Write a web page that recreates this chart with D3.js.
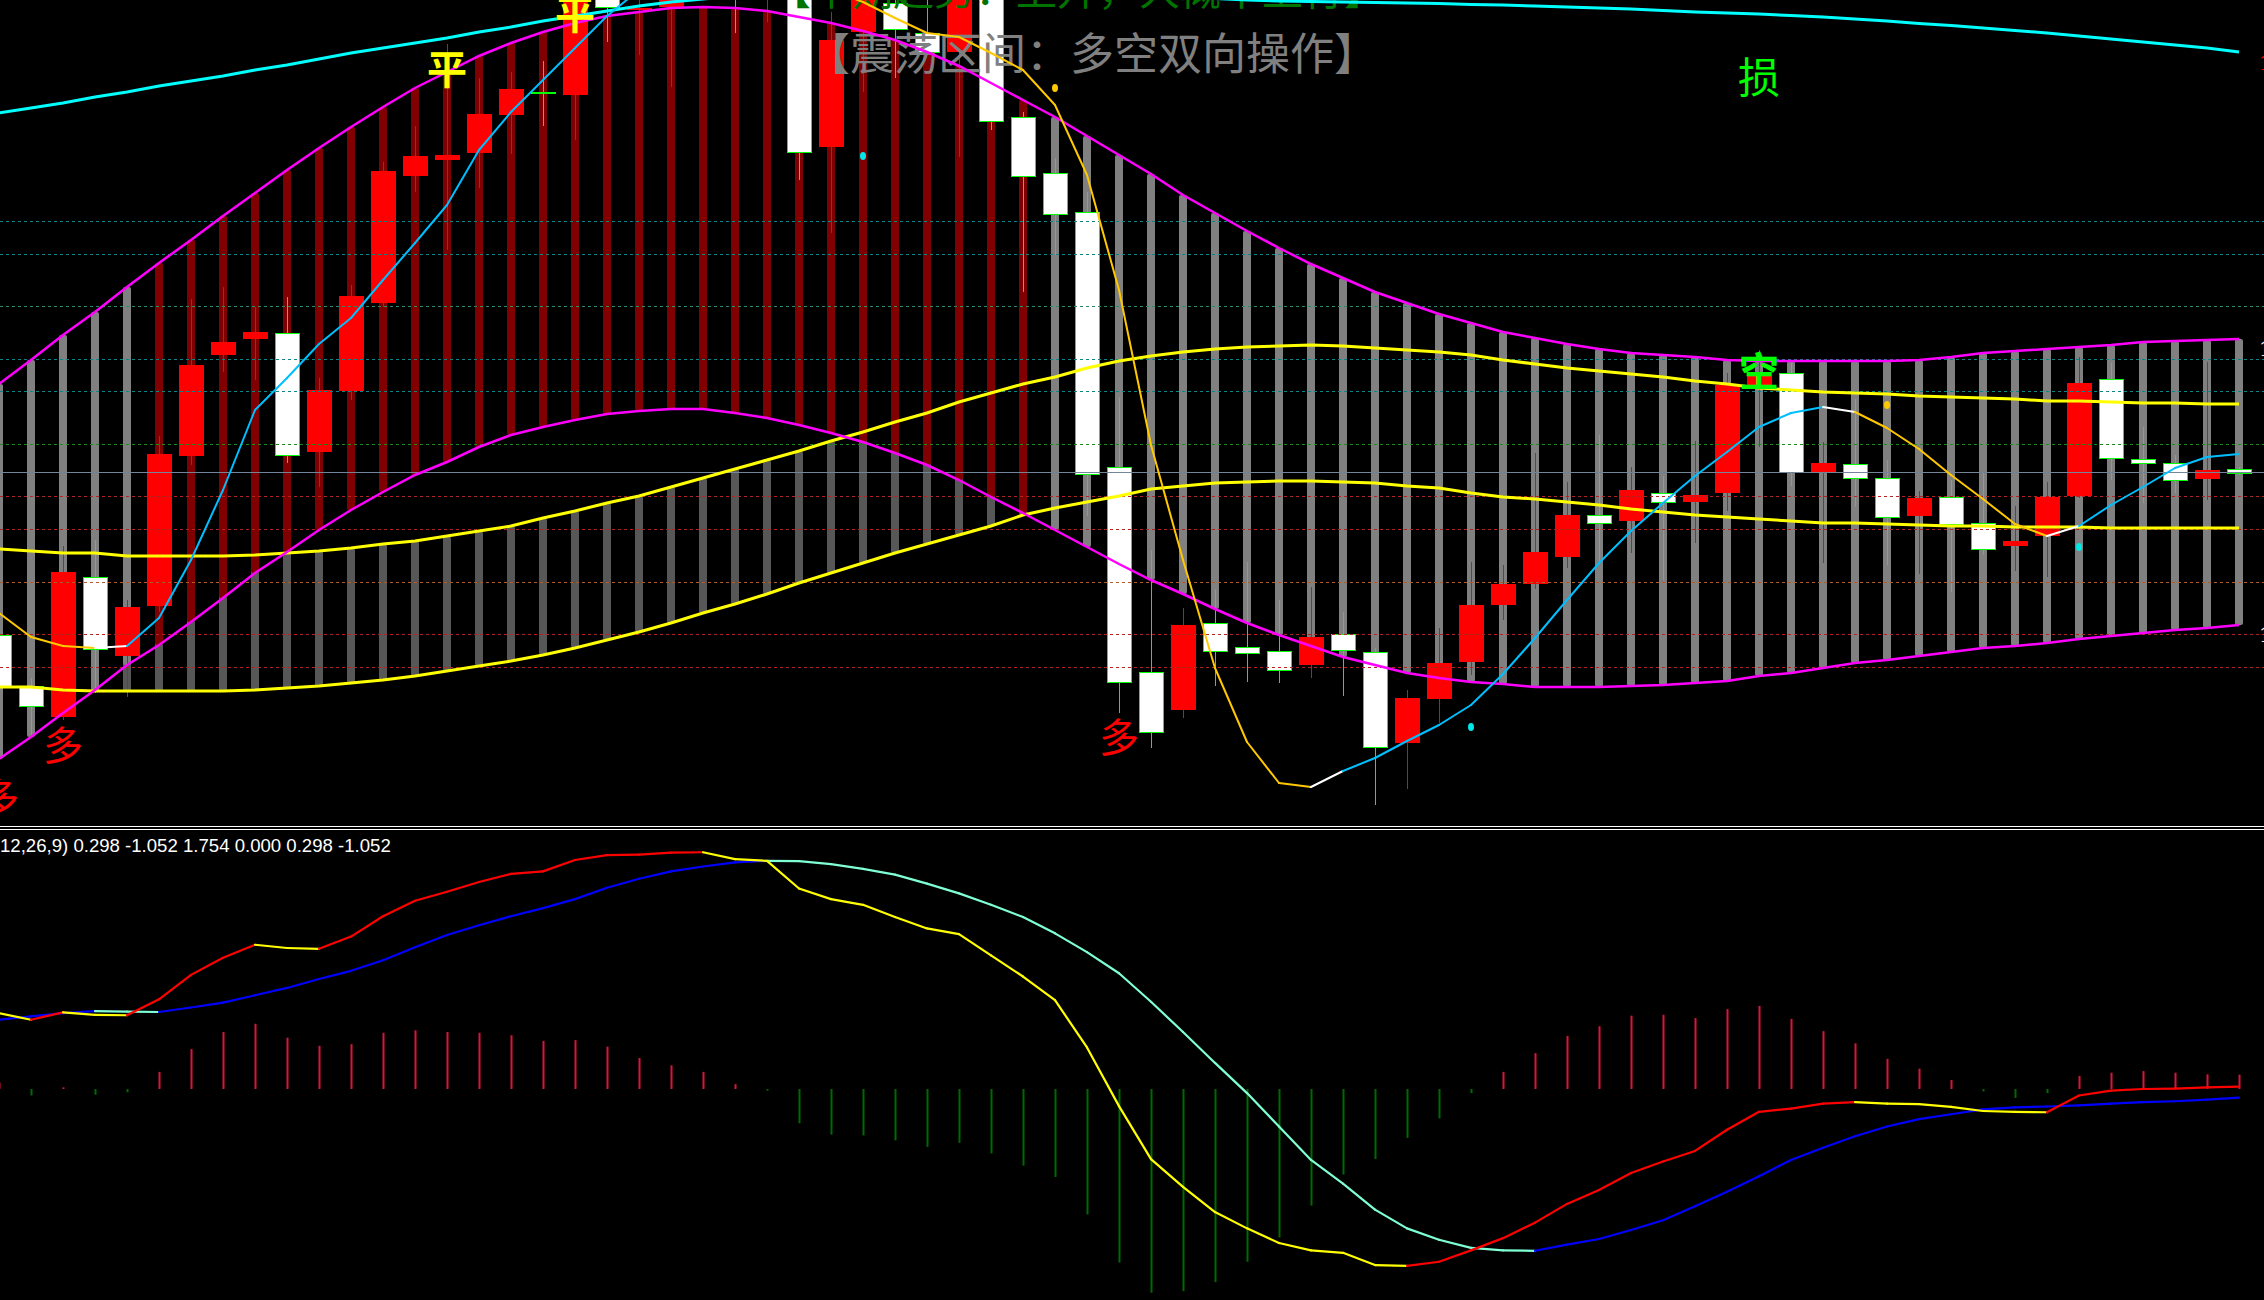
<!DOCTYPE html>
<html><head><meta charset="utf-8">
<script src="https://cdn.jsdelivr.net/npm/d3@7"></script>
<style>html,body{margin:0;padding:0;background:#000;overflow:hidden}</style>
</head><body>
<svg id="chart" width="2264" height="1300"></svg>
<script>
// ---------- DATA (bar index -1 .. 69) ----------
const barIndex = d3.range(-1, 70);
const openP = [1266.5,1261.4,1258.3,1272.3,1264.4,1269.4,1284.4,1294.5,1296.1,1296.7,1284.8,1290.9,1299.7,1312.4,1314.0,1314.7,1318.5,1320.75,1320.5,1331.8,1329.0,1329.3,1333.0,1335.0,1330.5,1332.5,1315.3,1326.8,1329.7,1326.7,1324.8,1330.8,1318.3,1312.7,1308.8,1283.3,1262.8,1259.0,1267.7,1265.3,1264.9,1263.5,1266.6,1264.8,1255.7,1260.1,1263.8,1269.5,1271.6,1274.3,1278.5,1277.9,1280.7,1279.8,1280.7,1291.3,1292.7,1282.8,1283.6,1282.2,1278.4,1280.3,1277.7,1275.4,1276.4,1280.4,1292.1,1284.1,1283.7,1282.1,1283.1];
const highP = [1268.0,1262.2,1275.4,1276.0,1270.0,1286.4,1300.1,1301.3,1299.3,1300.3,1292.2,1301.5,1313.8,1317.4,1325.6,1322.2,1322.8,1323.9,1331.2,1332.5,1330.8,1332.5,1335.5,1336.0,1334.0,1333.5,1328.8,1332.0,1330.5,1330.5,1331.5,1331.5,1318.8,1314.2,1310.8,1290.3,1275.0,1269.2,1271.1,1273.8,1270.0,1271.3,1268.8,1265.2,1261.0,1267.2,1273.8,1273.5,1284.7,1281.8,1286.5,1283.3,1282.4,1285.9,1292.7,1295.0,1293.7,1285.8,1290.1,1284.0,1280.9,1282.0,1282.8,1279.4,1281.8,1294.3,1293.7,1287.3,1284.5,1293.8,1283.3];
const lowP = [1260.0,1256.3,1258.0,1260.7,1260.3,1268.8,1283.5,1292.8,1292.0,1283.7,1281.3,1290.0,1299.3,1310.8,1305.0,1311.2,1314.6,1317.4,1316.0,1325.8,1324.5,1321.3,1330.8,1326.7,1327.8,1312.0,1306.7,1320.8,1322.2,1324.5,1314.3,1317.0,1300.8,1304.5,1278.4,1258.7,1255.2,1258.2,1261.4,1261.8,1261.7,1262.2,1260.4,1249.5,1251.1,1257.7,1262.5,1268.0,1271.1,1273.2,1273.7,1274.7,1272.0,1275.7,1278.9,1285.3,1281.4,1273.7,1279.3,1273.5,1272.6,1270.8,1274.5,1272.9,1272.3,1280.2,1282.0,1279.7,1280.7,1280.0,1282.5];
const closeP = [1261.3,1259.4,1272.8,1265.1,1269.3,1284.6,1293.5,1295.8,1296.8,1284.5,1291.0,1300.4,1312.9,1314.4,1314.5,1318.6,1321.1,1320.65,1330.3,1329.3,1329.2,1331.5,1334.5,1330.8,1333.0,1314.8,1326.0,1331.0,1327.1,1324.8,1330.5,1317.9,1312.4,1308.6,1282.6,1261.8,1256.8,1267.5,1264.9,1264.7,1263.0,1266.3,1265.0,1255.3,1260.2,1263.7,1269.5,1271.6,1274.8,1278.5,1277.7,1281.0,1279.8,1280.5,1291.5,1292.5,1282.8,1283.7,1282.2,1278.3,1280.2,1277.6,1275.1,1275.9,1280.3,1291.7,1284.2,1283.7,1282.0,1283.0,1282.7];

const bandUpper = [1291.6,1294.0,1296.5,1298.8,1301.3,1303.7,1306.0,1308.4,1310.7,1313.0,1315.2,1317.3,1319.3,1321.2,1322.8,1324.4,1325.7,1326.8,1327.7,1328.4,1328.8,1329.2,1329.3,1329.2,1328.9,1328.3,1327.7,1326.9,1326.0,1324.8,1323.4,1321.7,1320.0,1318.3,1316.4,1314.5,1312.6,1310.5,1308.7,1306.9,1305.2,1303.6,1302.2,1300.8,1299.7,1298.6,1297.7,1296.8,1296.2,1295.6,1295.1,1294.7,1294.5,1294.3,1294.0,1293.9,1293.9,1293.9,1293.9,1293.9,1294.0,1294.3,1294.7,1294.9,1295.1,1295.3,1295.5,1295.8,1295.9,1296.0,1296.1];
const bandLower = [1254.1,1256.3,1258.7,1261.0,1263.5,1265.5,1267.8,1270.2,1272.7,1274.8,1277.0,1279.0,1280.8,1282.5,1283.8,1285.3,1286.5,1287.3,1288.0,1288.6,1288.9,1289.1,1289.1,1288.7,1288.2,1287.5,1286.7,1285.8,1284.7,1283.5,1282.0,1280.3,1278.7,1277.0,1275.3,1273.6,1272.0,1270.6,1269.1,1267.7,1266.5,1265.4,1264.3,1263.5,1262.7,1262.2,1261.8,1261.6,1261.3,1261.3,1261.3,1261.4,1261.5,1261.7,1261.9,1262.4,1262.7,1263.2,1263.7,1264.0,1264.4,1264.8,1265.2,1265.4,1265.7,1266.1,1266.4,1266.7,1267.0,1267.2,1267.5];
const bandTrend = [0,0,0,0,0, 1,1,1,1,1,1,1,1,1,1,1,1,1,1,1,1,1,1,1,1,1,1,1,1,1,1,1,1, 0,0,0,0,0,0,0,0,0,0,0,0,0,0,0,0,0,0,0,0,0,0,0,0,0,0,0,0,0,0,0,0,0,0,0,0,0,0];
const maMidA = [1275.1,1274.9,1274.7,1274.7,1274.4,1274.4,1274.4,1274.4,1274.5,1274.7,1274.9,1275.2,1275.6,1275.9,1276.4,1276.9,1277.4,1278.2,1278.9,1279.7,1280.4,1281.3,1282.2,1283.1,1284.0,1284.9,1285.9,1286.8,1287.8,1288.7,1289.8,1290.7,1291.6,1292.3,1293.2,1293.9,1294.4,1294.8,1295.1,1295.3,1295.4,1295.5,1295.4,1295.2,1295.0,1294.8,1294.5,1294.0,1293.6,1293.2,1292.9,1292.6,1292.3,1291.9,1291.6,1291.2,1291.0,1290.8,1290.7,1290.6,1290.4,1290.3,1290.2,1290.1,1289.9,1289.9,1289.8,1289.7,1289.7,1289.6,1289.6];
const maMidB = [1261.3,1261.3,1261.0,1260.9,1260.9,1260.9,1260.9,1260.9,1261.0,1261.2,1261.4,1261.7,1262.0,1262.4,1262.9,1263.4,1263.9,1264.5,1265.2,1266.0,1266.8,1267.7,1268.7,1269.6,1270.6,1271.7,1272.7,1273.7,1274.7,1275.6,1276.5,1277.4,1278.5,1279.2,1279.8,1280.4,1281.1,1281.4,1281.7,1281.8,1281.9,1281.9,1281.8,1281.7,1281.4,1281.2,1280.7,1280.3,1280.1,1279.8,1279.5,1279.1,1278.8,1278.5,1278.3,1278.1,1277.9,1277.7,1277.7,1277.6,1277.5,1277.4,1277.4,1277.3,1277.3,1277.3,1277.2,1277.2,1277.2,1277.2,1277.2];
const maLong = [1318.7,1319.2,1319.7,1320.3,1320.8,1321.4,1321.9,1322.4,1323.0,1323.5,1324.1,1324.7,1325.2,1325.7,1326.2,1326.8,1327.3,1327.9,1328.4,1328.9,1329.4,1329.8,1330.1,1330.4,1330.6,1330.8,1330.9,1331.0,1331.0,1331.0,1331.0,1330.9,1330.8,1330.7,1330.6,1330.5,1330.4,1330.3,1330.15,1330.0,1329.9,1329.85,1329.8,1329.75,1329.7,1329.65,1329.55,1329.5,1329.4,1329.3,1329.2,1329.1,1328.95,1328.8,1328.7,1328.6,1328.45,1328.3,1328.1,1327.9,1327.65,1327.45,1327.2,1326.95,1326.7,1326.4,1326.1,1325.8,1325.5,1325.2,1324.8];
const fastLine = [1268.7,1266.3,1265.4,1265.2,1265.4,1268.2,1274.0,1281.0,1289.0,1292.2,1295.6,1298.2,1302.0,1305.7,1309.5,1315.0,1318.8,1322.0,1325.2,1328.4,1331.0,1332.5,1333.5,1333.8,1333.3,1332.2,1331.0,1329.8,1328.2,1326.7,1326.3,1324.7,1323.0,1319.5,1312.5,1301.0,1285.5,1274.0,1263.2,1255.8,1251.7,1251.3,1252.9,1254.2,1255.9,1257.5,1259.5,1262.6,1266.2,1270.0,1273.7,1276.9,1279.7,1282.4,1284.8,1287.3,1288.7,1289.3,1288.8,1287.2,1285.1,1282.5,1280.1,1277.6,1276.4,1277.4,1279.5,1281.3,1283.2,1284.3,1284.6];

const levelPrices = [1307.9,1304.6,1299.4,1294.1,1290.9,1285.6,1282.8,1280.4,1277.1,1271.8,1266.6,1263.3];

const markText  = ['多','多','多','平','平','损','空'];
const markIndex = [-1, 1, 34, 13, 17, 54, 54];
const markPrice = [1250.5,1255.7,1256.5,1323.3,1328.8,1322.6,1293.1];

const dotIndex = [26, 32, 45, 58, 64];
const dotPrice = [1314.4,1321.2,1257.3,1289.5,1275.3];
const dotKind  = ['low','high','low','high','low'];

const edgeLabels = ['1323.7','1295.1','1266.5'];
const edgePrices = [1323.7,1295.1,1266.5];

const titleText = '【震荡区间：多空双向操作】';
const topText = '【中期趋势：上升，大概率上行】';

// MACD panel
const difVals = [9.3,8.5,9.4,9.1,9.05,11.0,14.0,16.1,17.7,17.3,17.2,18.7,21.2,23.1,24.2,25.4,26.4,26.7,28.1,28.7,28.75,29.0,29.05,28.2,28.0,24.6,23.3,22.6,21.1,19.7,19.0,16.4,13.8,10.9,5.1,-2.1,-8.6,-12.0,-15.1,-17.1,-18.9,-19.8,-20.1,-21.6,-21.7,-21.2,-19.8,-18.3,-16.4,-14.1,-12.4,-10.3,-8.9,-7.6,-5.0,-2.8,-2.4,-1.8,-1.6,-1.8,-1.85,-2.2,-2.7,-2.8,-2.85,-0.8,-0.2,0.0,0.05,0.2,0.298];
const deaVals = [8.5,8.9,9.3,9.55,9.5,9.45,10.0,10.6,11.5,12.4,13.5,14.5,15.8,17.4,18.9,20.1,21.2,22.2,23.3,24.7,25.8,26.7,27.3,27.8,28.0,27.95,27.6,27.0,26.3,25.2,24.0,22.6,21.1,19.1,16.8,14.2,10.7,7.0,3.2,-0.5,-4.6,-8.7,-11.6,-14.8,-17.1,-18.5,-19.5,-19.8,-19.85,-19.1,-18.4,-17.3,-16.1,-14.4,-12.6,-10.7,-8.7,-7.2,-5.8,-4.6,-3.7,-3.1,-2.5,-2.25,-2.15,-2.0,-1.8,-1.6,-1.5,-1.3,-1.052];
const histVals = [0.8,-0.8,0.2,-0.7,-0.4,2.1,4.9,7.0,8.0,6.3,5.3,5.5,6.9,7.2,7.0,6.9,6.6,5.9,6.0,5.2,3.8,2.9,2.1,0.6,-0.2,-4.2,-5.6,-5.7,-6.3,-7.1,-6.6,-7.9,-9.4,-10.8,-15.4,-21.3,-25.0,-24.8,-23.7,-21.2,-18.2,-14.3,-10.5,-8.6,-6.0,-3.6,-0.5,2.1,4.4,6.5,7.7,9.0,9.1,8.7,9.8,10.2,8.6,7.1,5.6,3.7,2.5,1.1,-0.3,-1.1,-0.5,1.6,2.0,2.2,2.0,1.8,1.754];
const macdLabel = 'MACD(12,26,9) 0.298 -1.052 1.754 0.000 0.298 -1.052';

// ---------- DRAW ----------
const W = 2264, H = 1300;
const x = d3.scaleLinear().domain([0, 69]).range([31, 2239]);
const y = d3.scaleLinear().domain([1330, 1247.4]).range([0, 826]);
const ym = d3.scaleLinear().domain([0, 10]).range([1089, 1007.5]);

const svg = d3.select('#chart');
svg.append('rect').attr('width', W).attr('height', H).attr('fill', '#000');
const defs = svg.append('defs');
defs.append('clipPath').attr('id', 'mainClip').append('rect').attr('x', 0).attr('y', 0).attr('width', W).attr('height', 825);
defs.append('clipPath').attr('id', 'macdClip').append('rect').attr('x', 0).attr('y', 831).attr('width', W).attr('height', H - 831);

const rows = barIndex.map((i, k) => ({
  i, o: openP[k], h: highP[k], l: lowP[k], c: closeP[k],
  up: bandUpper[k], lo: bandLower[k], a: maMidA[k], b: maMidB[k], t: bandTrend[k],
  dif: difVals[k], dea: deaVals[k], hist: histVals[k]
}));

const main = svg.append('g').attr('clip-path', 'url(#mainClip)');

// dark channel bars between the two yellow averages
main.append('g').selectAll('rect').data(rows).join('rect')
  .attr('x', d => x(d.i) - 4).attr('width', 8)
  .attr('y', d => y(Math.max(d.a, d.b))).attr('height', d => Math.abs(y(d.a) - y(d.b)))
  .attr('rx', 2).attr('fill', '#575757');
// band bars
main.append('g').selectAll('rect').data(rows).join('rect')
  .attr('x', d => x(d.i) - 4).attr('width', 8)
  .attr('y', d => y(d.up)).attr('height', d => y(d.lo) - y(d.up))
  .attr('rx', 2).attr('fill', d => d.t ? '#800000' : '#808080');

// candles
const cg = main.append('g').attr('shape-rendering', 'crispEdges');
cg.selectAll('line').data(rows).join('line')
  .attr('x1', d => x(d.i) + 0.5).attr('x2', d => x(d.i) + 0.5)
  .attr('y1', d => y(d.h)).attr('y2', d => y(d.l))
  .attr('stroke', d => d.c > d.o ? '#ff0000' : '#00ff00').attr('stroke-width', 1);
cg.selectAll('rect.up').data(rows.filter(d => d.c > d.o)).join('rect').attr('class', 'up')
  .attr('x', d => x(d.i) - 12).attr('width', 25)
  .attr('y', d => y(d.c)).attr('height', d => Math.max(2, y(d.o) - y(d.c)))
  .attr('fill', '#ff0000');
cg.selectAll('rect.dn').data(rows.filter(d => d.c <= d.o)).join('rect').attr('class', 'dn')
  .attr('x', d => x(d.i) - 11.5).attr('width', 24)
  .attr('y', d => y(d.o)).attr('height', d => Math.max(1, y(d.c) - y(d.o)))
  .attr('fill', '#ffffff').attr('stroke', '#00ff00').attr('stroke-width', 1);

// horizontal levels
const levelColors = ['#0b8585','#0b8585','#2a8a6e','#0b8585','#0b8585','#1e8a1e','#74849a','#b02424','#b02424','#b25a2a','#b02424','#b02424'];
main.append('g').attr('shape-rendering', 'crispEdges').selectAll('line').data(levelPrices).join('line')
  .attr('x1', 0).attr('x2', W)
  .attr('y1', d => Math.round(y(d)) + 0.5).attr('y2', d => Math.round(y(d)) + 0.5)
  .attr('stroke', (d, k) => levelColors[k]).attr('stroke-width', 1)
  .attr('stroke-dasharray', (d, k) => k === 6 ? null : '3,3');

// title texts
main.append('text').attr('x', 806).attr('y', 51).attr('dominant-baseline', 'central')
  .attr('font-family', '"Noto Sans CJK SC"').attr('font-size', 44).attr('fill', '#808080').text(titleText);
main.append('text').attr('x', 770).attr('y', -13).attr('dominant-baseline', 'central')
  .attr('font-family', '"Noto Sans CJK SC"').attr('font-size', 41).attr('fill', '#007400').text(topText);

// averages
const lineFor = key => d3.line().x(d => x(d.i)).y(d => y(d[key]));
const avgRows = rows.map((d, k) => Object.assign({}, d, { lng: maLong[k] }));
main.append('path').datum(avgRows).attr('d', lineFor('a')).attr('fill', 'none').attr('stroke', '#ffff00').attr('stroke-width', 3);
main.append('path').datum(avgRows).attr('d', lineFor('b')).attr('fill', 'none').attr('stroke', '#ffff00').attr('stroke-width', 3);
main.append('path').datum(avgRows).attr('d', lineFor('up')).attr('fill', 'none').attr('stroke', '#ff00ff').attr('stroke-width', 2.5);
main.append('path').datum(avgRows).attr('d', lineFor('lo')).attr('fill', 'none').attr('stroke', '#ff00ff').attr('stroke-width', 2.5);
main.append('path').datum(avgRows).attr('d', lineFor('lng')).attr('fill', 'none').attr('stroke', '#00ffff').attr('stroke-width', 3);

// fast line, coloured by direction (white on turning segment)
const fastSegs = d3.range(fastLine.length - 1).map(k => {
  const dir = Math.sign(fastLine[k + 1] - fastLine[k]);
  const prev = k > 0 ? Math.sign(fastLine[k] - fastLine[k - 1]) : dir;
  return { i0: barIndex[k], i1: barIndex[k + 1], v0: fastLine[k], v1: fastLine[k + 1],
           col: dir !== prev ? '#ffffff' : (dir > 0 ? '#00bfff' : '#ffc800') };
});
main.append('g').selectAll('line').data(fastSegs).join('line')
  .attr('x1', d => x(d.i0)).attr('x2', d => x(d.i1))
  .attr('y1', d => y(d.v0)).attr('y2', d => y(d.v1))
  .attr('stroke', d => d.col).attr('stroke-width', 2).attr('stroke-linecap', 'round');

// dots
main.append('g').selectAll('ellipse').data(dotIndex).join('ellipse')
  .attr('cx', d => x(d)).attr('cy', (d, k) => y(dotPrice[k]))
  .attr('rx', 3).attr('ry', 4)
  .attr('fill', (d, k) => dotKind[k] === 'low' ? '#00e8e8' : '#ffc800');

// signal characters
const markColor = { '多': '#ff0000', '平': '#ffff00', '损': '#00ff00', '空': '#00ff00' };
main.append('g').selectAll('text').data(markText).join('text')
  .attr('x', (d, k) => x(markIndex[k])).attr('y', (d, k) => y(markPrice[k]))
  .attr('text-anchor', 'middle').attr('dominant-baseline', 'central')
  .attr('font-family', '"Noto Sans CJK SC"')
  .attr('font-size', d => d === '损' ? 42 : 40)
  .attr('font-weight', d => (d === '平' || d === '空') ? 'bold' : 'normal')
  .attr('fill', d => markColor[d]).text(d => d);

// right edge price labels (cut off)
main.append('g').selectAll('text').data(edgeLabels).join('text')
  .attr('x', 2259).attr('y', (d, k) => y(edgePrices[k])).attr('dominant-baseline', 'central')
  .attr('font-family', '"DejaVu Serif"').attr('font-size', 20)
  .attr('fill', (d, k) => k === 0 ? '#ff0000' : '#e6ecff').text(d => d);

// separator
svg.append('g').attr('shape-rendering', 'crispEdges').selectAll('line').data([826.5, 829.5]).join('line')
  .attr('x1', 0).attr('x2', W).attr('y1', d => d).attr('y2', d => d).attr('stroke', '#ffffff').attr('stroke-width', 1);

// MACD panel
const macd = svg.append('g').attr('clip-path', 'url(#macdClip)');
macd.append('g').selectAll('line').data(rows).join('line')
  .attr('x1', d => x(d.i) + 0.5).attr('x2', d => x(d.i) + 0.5)
  .attr('y1', ym(0)).attr('y2', d => ym(d.hist))
  .attr('stroke', d => d.hist >= 0 ? '#dc143c' : '#006a00').attr('stroke-width', 2);

function colouredSegs(vals, upCol, dnCol) {
  return d3.range(vals.length - 1).map(k => ({
    i0: barIndex[k], i1: barIndex[k + 1], v0: vals[k], v1: vals[k + 1],
    col: vals[k + 1] >= vals[k] ? upCol : dnCol }));
}
const deaSegs = colouredSegs(deaVals, '#0000ff', '#7fffd4');
const difSegs = colouredSegs(difVals, '#ff0000', '#ffff00');
[deaSegs, difSegs].forEach(sg => {
  macd.append('g').selectAll('line').data(sg).join('line')
    .attr('x1', d => x(d.i0)).attr('x2', d => x(d.i1))
    .attr('y1', d => ym(d.v0)).attr('y2', d => ym(d.v1))
    .attr('stroke', d => d.col).attr('stroke-width', 2.2).attr('stroke-linecap', 'round');
});

// MACD label, the "MACD(" prefix runs off the left edge
const lab = svg.append('text').attr('y', 845).attr('dominant-baseline', 'central')
  .attr('font-family', '"Liberation Sans"').attr('font-size', 18.6).attr('fill', '#ffffff').text(macdLabel);
const probe = svg.append('text').attr('font-family', '"Liberation Sans"').attr('font-size', 18.6).text('MACD(');
const pw = probe.node().getComputedTextLength();
probe.remove();
lab.attr('x', -pw);
</script>
</body></html>
